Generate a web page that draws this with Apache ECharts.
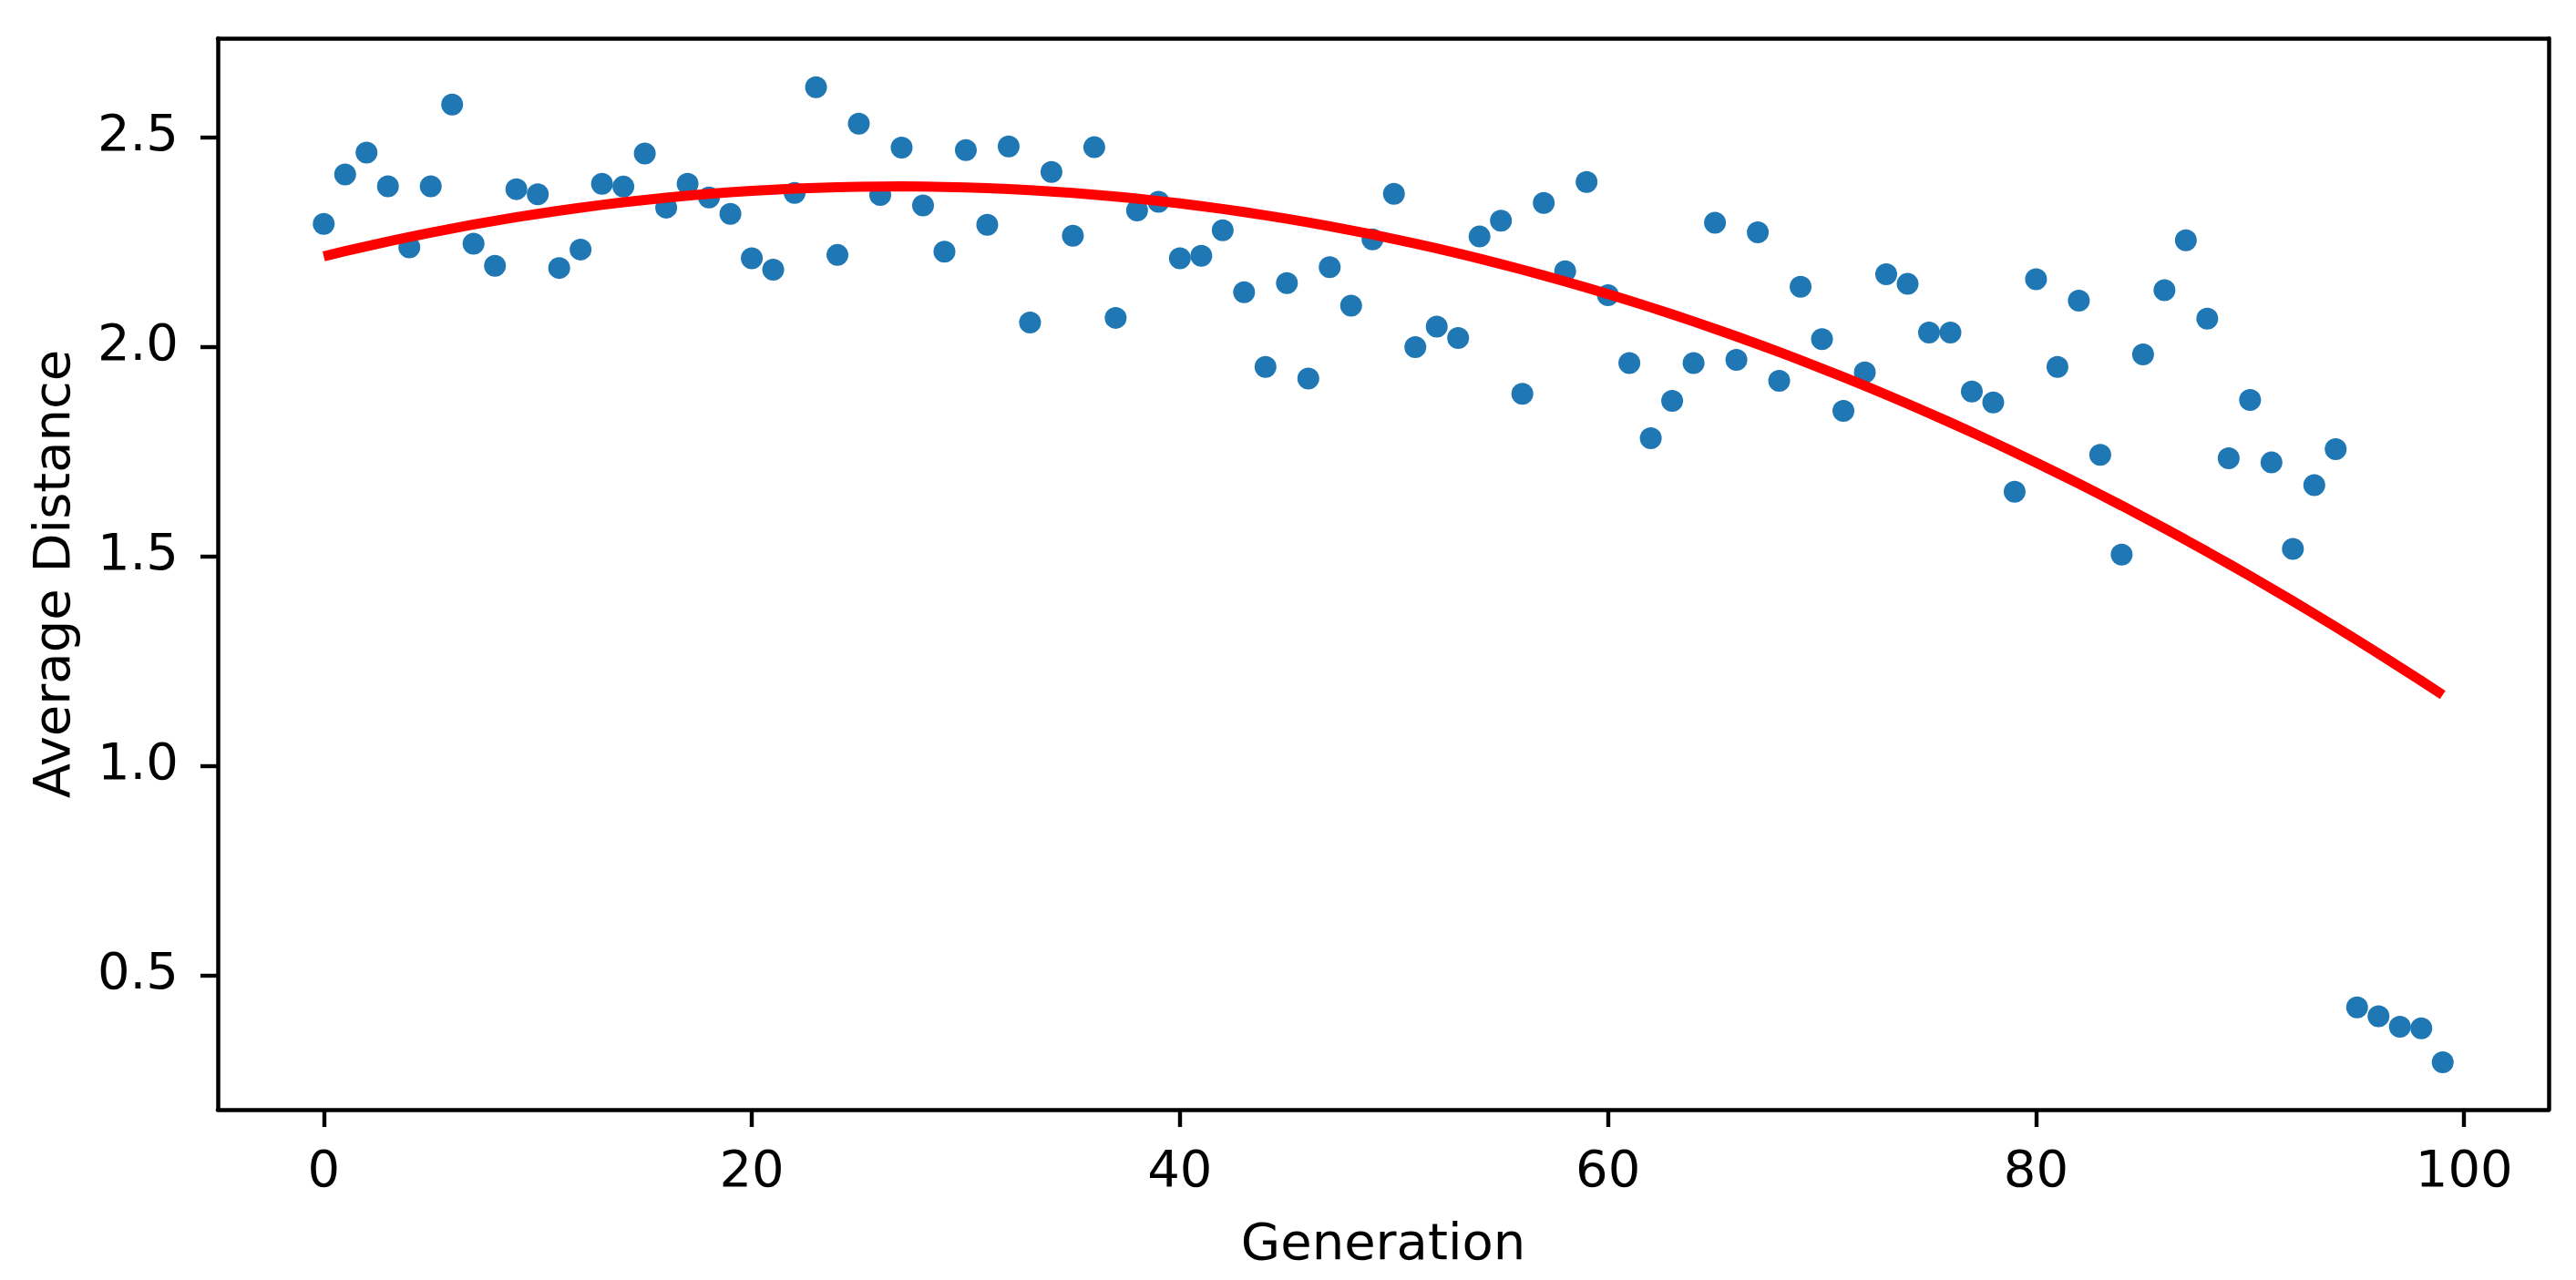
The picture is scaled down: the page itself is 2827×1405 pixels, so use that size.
<!DOCTYPE html>
<html>
<head>
<meta charset="utf-8">
<script src="https://cdn.jsdelivr.net/npm/echarts@6/dist/echarts.min.js"></script>
<style>
html,body{margin:0;padding:0;background:#fff;}
#chart{width:2827px;height:1405px;}
</style>
</head>
<body>
<div id="chart"></div>
<script>
// Generation index and average distance
const generations = Array.from({length: 100}, (_, i) => i);
const avgDistance = [
  2.293, 2.411, 2.463, 2.383, 2.237, 2.383, 2.578, 2.246, 2.193, 2.376,
  2.364, 2.188, 2.232, 2.389, 2.382, 2.461, 2.332, 2.389, 2.356, 2.317,
  2.211, 2.184, 2.367, 2.619, 2.219, 2.532, 2.362, 2.475, 2.337, 2.227,
  2.469, 2.291, 2.478, 2.058, 2.417, 2.265, 2.476, 2.069, 2.325, 2.346,
  2.211, 2.217, 2.278, 2.130, 1.952, 2.152, 1.924, 2.190, 2.098, 2.256,
  2.365, 1.999, 2.048, 2.021, 2.263, 2.301, 1.888, 2.343, 2.180, 2.393,
  2.123, 1.961, 1.782, 1.871, 1.961, 2.296, 1.969, 2.273, 1.919, 2.143,
  2.018, 1.847, 1.939, 2.173, 2.150, 2.034, 2.034, 1.893, 1.867, 1.654,
  2.161, 1.952, 2.110, 1.742, 1.504, 1.982, 2.135, 2.254, 2.067, 1.734,
  1.873, 1.724, 1.518, 1.670, 1.756, 0.424, 0.403, 0.378, 0.374, 0.293
];
const xTicks = [0, 20, 40, 60, 80, 100];
const yTicks = [0.5, 1.0, 1.5, 2.0, 2.5];

// Quadratic least-squares trend fitted to the scatter data
function polyfit2(xs, ys) {
  let S = [0,0,0,0,0], T = [0,0,0];
  for (let k = 0; k < xs.length; k++) {
    const x = xs[k], y = ys[k];
    let p = 1;
    for (let j = 0; j < 5; j++) { S[j] += p; if (j < 3) T[j] += p * y; p *= x; }
  }
  const A = [[S[0],S[1],S[2],T[0]],[S[1],S[2],S[3],T[1]],[S[2],S[3],S[4],T[2]]];
  for (let i = 0; i < 3; i++) {
    for (let r = i + 1; r < 3; r++) {
      const f = A[r][i] / A[i][i];
      for (let c = i; c < 4; c++) A[r][c] -= f * A[i][c];
    }
  }
  const c = [0,0,0];
  for (let i = 2; i >= 0; i--) {
    let s = A[i][3];
    for (let j = i + 1; j < 3; j++) s -= A[i][j] * c[j];
    c[i] = s / A[i][i];
  }
  return c;
}
const coef = polyfit2(generations, avgDistance);
const trend = generations.map(x => [x, coef[0] + coef[1]*x + coef[2]*x*x]);

const FONT = 'DejaVu Sans';
const XMIN = -4.95, XMAX = 103.95, YMIN = 0.18, YMAX = 2.736;
const spine = {show: true, onZero: false, lineStyle: {color: '#000', width: 4.5}};
const chart = echarts.init(document.getElementById('chart'), null, {renderer: 'canvas'});
chart.setOption({
  backgroundColor: '#ffffff',
  animation: false,
  grid: {left: 239, right: 30, top: 42, bottom: 187, show: false},
  xAxis: [{
    type: 'value', min: XMIN, max: XMAX, position: 'bottom',
    name: 'Generation', nameLocation: 'middle', nameGap: 121,
    nameTextStyle: {fontFamily: FONT, fontSize: 56, color: '#000'},
    axisLine: spine,
    axisTick: {show: true, inside: false, length: 19, lineStyle: {color: '#000', width: 4.4}, customValues: xTicks},
    axisLabel: {show: true, margin: 41, fontFamily: FONT, fontSize: 56, color: '#000', customValues: xTicks,
      formatter: v => String(Math.round(v))},
    splitLine: {show: false}
  }, {
    type: 'value', min: XMIN, max: XMAX, position: 'top',
    axisLine: spine, axisTick: {show: false}, axisLabel: {show: false}, splitLine: {show: false}
  }],
  yAxis: [{
    type: 'value', min: YMIN, max: YMAX, position: 'left',
    name: 'Average Distance', nameLocation: 'middle', nameGap: 150,
    nameTextStyle: {fontFamily: FONT, fontSize: 56, color: '#000'},
    axisLine: spine,
    axisTick: {show: true, inside: false, length: 19, lineStyle: {color: '#000', width: 4.4}, customValues: yTicks},
    axisLabel: {show: true, margin: 43, fontFamily: FONT, fontSize: 56, color: '#000', customValues: yTicks,
      formatter: v => v.toFixed(1)},
    splitLine: {show: false}
  }, {
    type: 'value', min: YMIN, max: YMAX, position: 'right',
    axisLine: spine, axisTick: {show: false}, axisLabel: {show: false}, splitLine: {show: false}
  }],
  series: [
    {
      type: 'scatter', xAxisIndex: 0, yAxisIndex: 0,
      data: generations.map((g, i) => [g, avgDistance[i]]),
      symbol: 'circle', symbolSize: 24,
      itemStyle: {color: '#1f77b4', opacity: 1},
      z: 2
    },
    {
      type: 'line', xAxisIndex: 0, yAxisIndex: 0,
      data: trend,
      showSymbol: false, symbol: 'none', smooth: false,
      lineStyle: {color: '#ff0000', width: 11},
      z: 3
    }
  ]
});
</script>
</body>
</html>
